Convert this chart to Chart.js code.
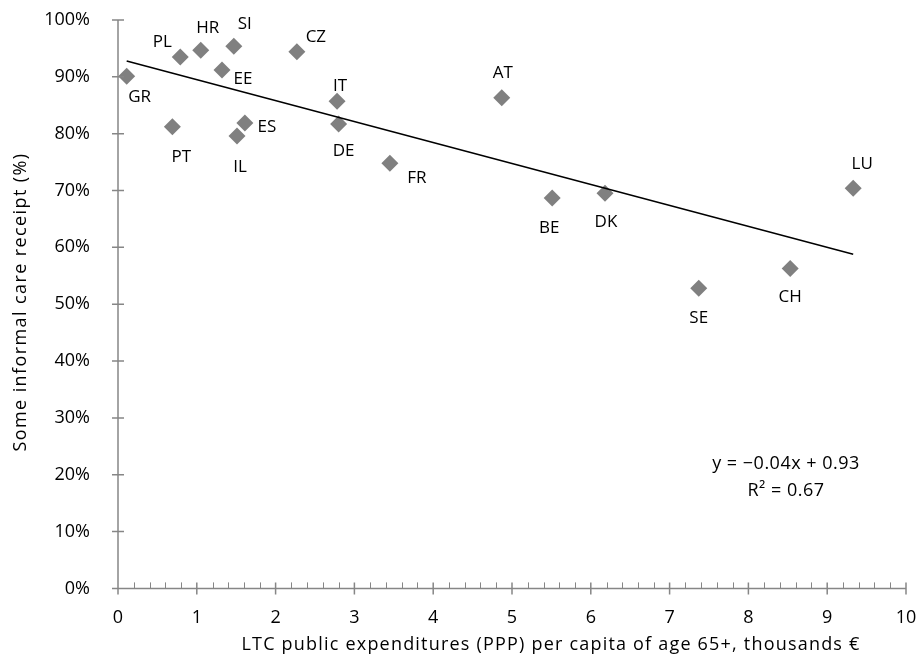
<!DOCTYPE html>
<html>
<head>
<meta charset="utf-8">
<script src="https://cdn.jsdelivr.net/npm/chart.js@4/dist/chart.umd.min.js"></script>
<style>
  html, body { margin: 0; padding: 0; background: #fff; }
  #wrap { width: 920px; height: 666px; }
</style>
</head>
<body>
<div id="wrap"><canvas id="chart" width="920" height="666"></canvas></div>
<script>
const countries = ["GR", "PL", "HR", "SI", "EE", "CZ", "PT", "IL", "ES", "IT", "DE", "AT", "FR", "BE", "DK", "SE", "CH", "LU"];
const spending = [0.11, 0.79, 1.05, 1.47, 1.32, 2.27, 0.69, 1.51, 1.61, 2.78, 2.80, 4.87, 3.45, 5.51, 6.18, 7.37, 8.53, 9.33];
const informalCare = [90.1, 93.5, 94.7, 95.4, 91.2, 94.4, 81.2, 79.6, 81.9, 85.7, 81.7, 86.3, 74.8, 68.7, 69.5, 52.8, 56.3, 70.4];
const trendX = [0.11, 9.33];
const trendY = [92.8, 58.8];
const xTicks = [0, 1, 2, 3, 4, 5, 6, 7, 8, 9, 10];
const yTicks = [0, 10, 20, 30, 40, 50, 60, 70, 80, 90, 100];

const xTitle = "LTC public expenditures (PPP) per capita of age 65+, thousands \u20AC";
const yTitle = "Some informal care receipt (%)";

const FONT = "'Open Sans', 'Noto Sans', sans-serif";
const AXIS = "#868686";

// where each country label sits relative to its marker (px)
const labelOffsets = {
  GR: [13, 21], PL: [-18, -15], HR: [7, -22], SI: [11, -22], EE: [21, 9],
  CZ: [19, -15], PT: [9, 30], IL: [3, 31], ES: [22, 4], IT: [3, -15],
  DE: [5, 27], AT: [1, -25], FR: [27, 15], BE: [-3, 30], DK: [1, 29],
  SE: [0, 30], CH: [0, 29], LU: [9, -24]
};

const extras = {
  id: "extras",
  afterDraw(chart) {
    const ctx = chart.ctx;
    const xs = chart.scales.x, ys = chart.scales.y;
    const y0 = ys.getPixelForValue(0), x0 = xs.getPixelForValue(0);
    ctx.save();
    ctx.strokeStyle = AXIS;
    ctx.lineWidth = 1.5;
    ctx.beginPath();
    // axis lines
    ctx.moveTo(x0, ys.getPixelForValue(100)); ctx.lineTo(x0, y0);
    ctx.moveTo(x0, y0); ctx.lineTo(xs.getPixelForValue(10), y0);
    // major ticks, crossing the axis
    yTicks.forEach(v => {
      const p = ys.getPixelForValue(v);
      ctx.moveTo(x0 - 6, p); ctx.lineTo(x0 + 6, p);
    });
    xTicks.forEach(v => {
      const p = xs.getPixelForValue(v);
      ctx.moveTo(p, y0 - 6); ctx.lineTo(p, y0 + 6);
    });
    ctx.stroke();
    // minor ticks on x, inside
    ctx.lineWidth = 1;
    ctx.beginPath();
    for (let i = 0; i < 50; i++) {
      if (i % 5 === 0) continue;
      const p = Math.round(xs.getPixelForValue(i * 0.2)) + 0.5;
      ctx.moveTo(p, y0); ctx.lineTo(p, y0 - 6);
    }
    ctx.stroke();

    // country labels
    const meta = chart.getDatasetMeta(1);
    ctx.fillStyle = "#000";
    ctx.font = "17px " + FONT;
    ctx.textAlign = "center";
    ctx.textBaseline = "middle";
    meta.data.forEach((pt, i) => {
      const off = labelOffsets[countries[i]] || [0, -20];
      ctx.fillText(countries[i], pt.x + off[0], pt.y + off[1]);
    });

    // trend equation
    ctx.font = "18px " + FONT;
    ctx.letterSpacing = "0.5px";
    ctx.fillText("y = \u22120.04x + 0.93", 786, 464);
    ctx.fillText("R\u00B2 = 0.67", 786, 491);

    // axis titles, a bit spaced out like the original
    ctx.letterSpacing = "1.2px";
    ctx.font = "18px " + FONT;
    ctx.fillText(xTitle, 551, 645);
    ctx.translate(21, 302);
    ctx.rotate(-Math.PI / 2);
    ctx.letterSpacing = "1.4px";
    ctx.fillText(yTitle, 0, 0);
    ctx.restore();
  }
};

new Chart(document.getElementById("chart"), {
  type: "scatter",
  data: {
    datasets: [
      {
        type: "line",
        data: trendX.map((x, i) => ({ x, y: trendY[i] })),
        borderColor: "#000",
        borderWidth: 1.5,
        pointRadius: 0,
        fill: false
      },
      {
        data: spending.map((x, i) => ({ x, y: informalCare[i] })),
        pointStyle: "rectRot",
        pointRadius: 8.5,
        pointHoverRadius: 8.5,
        backgroundColor: "#808080",
        borderColor: "#808080",
        borderWidth: 0
      }
    ]
  },
  options: {
    responsive: false,
    animation: false,
    layout: { padding: { top: 20, right: 14, left: 4, bottom: 26 } },
    plugins: { legend: { display: false }, tooltip: { enabled: false } },
    scales: {
      x: {
        type: "linear",
        min: 0, max: 10,
        afterBuildTicks: s => { s.ticks = xTicks.map(v => ({ value: v })); },
        afterFit: s => { s.paddingLeft = 0; s.paddingRight = 0; },
        grid: { display: false },
        border: { display: false },
        ticks: { color: "#000", font: { family: FONT, size: 18 }, padding: 11 }
      },
      y: {
        min: 0, max: 100,
        afterBuildTicks: s => { s.ticks = yTicks.map(v => ({ value: v })); },
        afterFit: s => { s.width = 114; s.paddingTop = 0; s.paddingBottom = 0; },
        grid: { display: false },
        border: { display: false },
        ticks: { color: "#000", font: { family: FONT, size: 18 }, padding: 20, callback: v => v + "%" }
      }
    }
  },
  plugins: [extras]
});
</script>
</body>
</html>
